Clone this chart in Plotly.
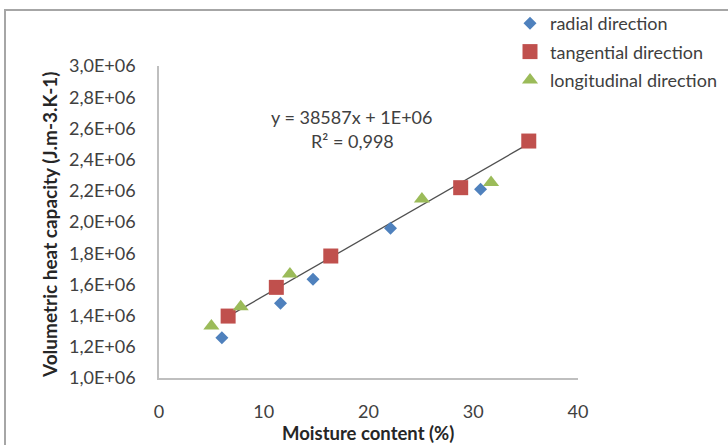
import plotly.graph_objects as go

# Moisture content (%) and volumetric heat capacity (J.m-3.K-1) per direction
radial_x = [6.0, 11.6, 14.7, 22.1, 30.7]
radial_y = [1.258e6, 1.479e6, 1.633e6, 1.960e6, 2.210e6]

tangential_x = [6.6, 11.2, 16.4, 28.8, 35.3]
tangential_y = [1.397e6, 1.581e6, 1.782e6, 2.220e6, 2.519e6]

longitudinal_x = [5.0, 7.8, 12.5, 25.1, 31.7]
longitudinal_y = [1.333e6, 1.457e6, 1.667e6, 2.147e6, 2.254e6]

# Linear trend line: y = 38587x + 1E+06 (intercept shown rounded)
trend_slope = 38587
trend_intercept = 1.14e6

y_tick_vals = [1.0e6, 1.2e6, 1.4e6, 1.6e6, 1.8e6, 2.0e6, 2.2e6, 2.4e6, 2.6e6, 2.8e6, 3.0e6]
y_tick_text = ["1,0E+06", "1,2E+06", "1,4E+06", "1,6E+06", "1,8E+06", "2,0E+06",
               "2,2E+06", "2,4E+06", "2,6E+06", "2,8E+06", "3,0E+06"]
x_tick_vals = [0, 10, 20, 30, 40]

W, H = 728, 445
L, R, T, B = 159, 578, 66, 378  # plot area in pixels


def px(xp):
    return (xp - L) / (R - L)


def py(yp):
    return (B - yp) / (B - T)


FONT = "Lato, 'Open Sans', sans-serif"
TXT = "#404040"
FS = 18

fig = go.Figure()

# trend line first so the markers sit on top of it
tx = [min(tangential_x), max(tangential_x)]
ty = [trend_slope * v + trend_intercept for v in tx]
fig.add_trace(go.Scatter(
    x=tx, y=ty, mode="lines", showlegend=False,
    line=dict(color="#505050", width=1.3),
))

fig.add_trace(go.Scatter(
    x=radial_x, y=radial_y, mode="markers", name="radial direction",
    legendgroup="r",
    marker=dict(symbol="diamond", size=10, color="#4f81bd"),
))
fig.add_trace(go.Scatter(
    x=tangential_x, y=tangential_y, mode="markers", name="tangential direction",
    legendgroup="t",
    marker=dict(symbol="square", size=15, color="#c0504d"),
))
fig.add_trace(go.Scatter(
    x=longitudinal_x, y=longitudinal_y, mode="markers", name="longitudinal direction",
    legendgroup="l",
    marker=dict(symbol="triangle-up", size=14, color="#9bbb59"),
))

fig.update_layout(
    width=W, height=H,
    margin=dict(l=L, r=W - R, t=T, b=H - B, pad=0, autoexpand=False),
    paper_bgcolor="white", plot_bgcolor="white",
    font=dict(family=FONT, size=FS, color=TXT),
    showlegend=True,
    legend=dict(
        x=px(510), y=py(5), xanchor="left", yanchor="top",
        bgcolor="rgba(0,0,0,0)", font=dict(size=FS, color=TXT),
        tracegroupgap=2, traceorder="grouped",
    ),
    xaxis=dict(
        range=[0, 40], tickvals=x_tick_vals, showgrid=False, zeroline=False,
        showline=True, linecolor="#bfbfbf", linewidth=1.5,
        ticks="outside", ticklen=17, tickcolor="rgba(0,0,0,0)",
        tickfont=dict(size=FS, color=TXT), automargin=False,
    ),
    yaxis=dict(
        range=[1.0e6, 3.0e6], tickvals=y_tick_vals, ticktext=y_tick_text,
        showgrid=False, zeroline=False,
        showline=True, linecolor="#bfbfbf", linewidth=1.5,
        ticks="outside", ticklen=18, tickcolor="rgba(0,0,0,0)",
        tickfont=dict(size=FS, color=TXT), automargin=False,
    ),
)

annotations = [
    dict(text="<b>Volumetric heat capacity (J.m-3.K-1)</b>", x=px(49), y=py(225),
         textangle=-90, font=dict(size=19, color="#262626")),
    dict(text="<b>Moisture content (%)</b>", x=px(368), y=py(433),
         font=dict(size=18.5, color="#262626")),
    dict(text="y = 38587x + 1E+06", x=px(351), y=py(117), font=dict(size=FS, color=TXT)),
    dict(text="R² = 0,998", x=px(352), y=py(141), font=dict(size=FS, color=TXT)),
]
for a in annotations:
    a.update(xref="paper", yref="paper", showarrow=False, xanchor="center", yanchor="middle")
fig.update_layout(annotations=annotations)

# outer chart frame (top and left edges fall inside the page)
fig.add_shape(type="rect", xref="paper", yref="paper",
              x0=px(5), x1=px(760), y0=py(480), y1=py(10),
              line=dict(color="#a6a6a6", width=2), fillcolor="rgba(0,0,0,0)")

fig.write_html("out.html")
